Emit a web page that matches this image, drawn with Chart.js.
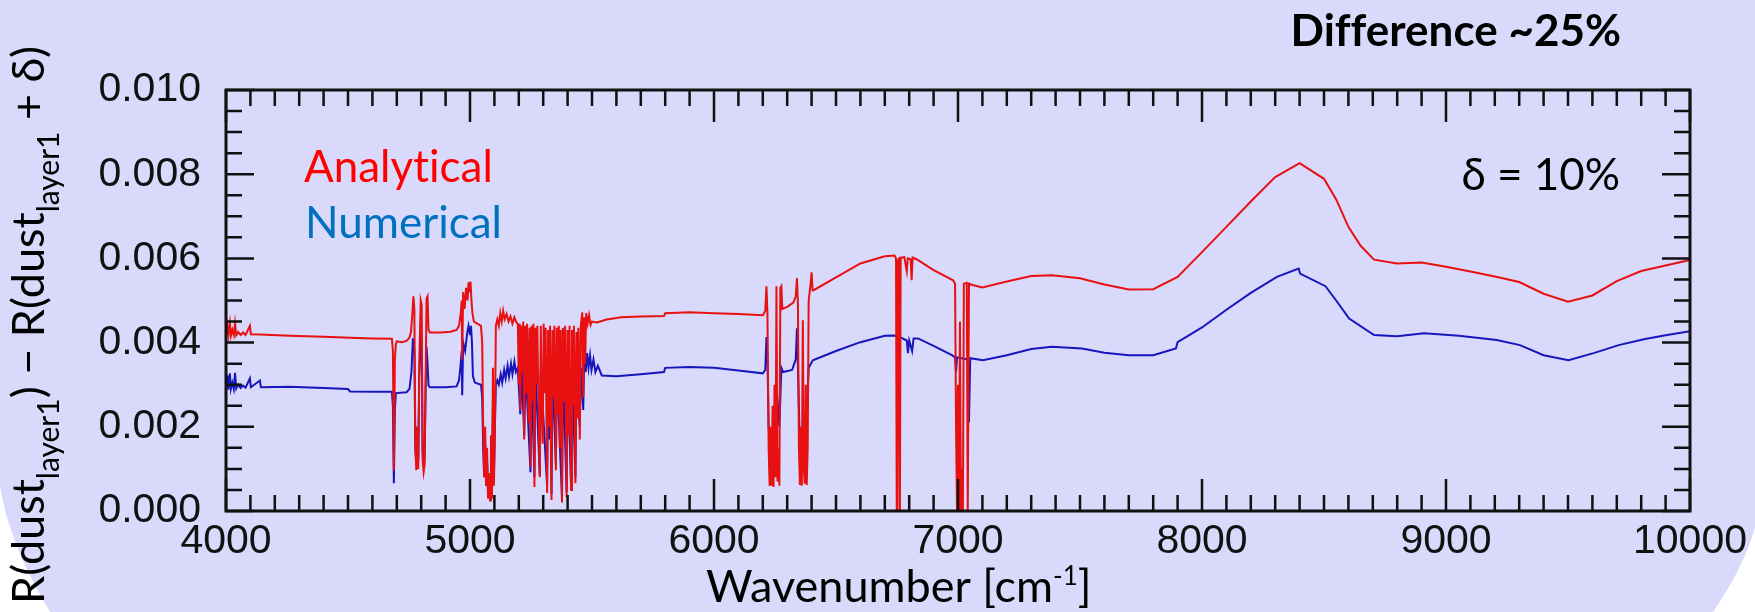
<!DOCTYPE html>
<html>
<head>
<meta charset="utf-8">
<script src="https://cdn.jsdelivr.net/npm/chart.js@4.4.1/dist/chart.umd.min.js"></script>
<style>
  html, body { margin: 0; padding: 0; background: #fff; }
  canvas { display: block; }
</style>
</head>
<body>
<canvas id="spectrum" width="1755" height="612"></canvas>
<script>
/* ===================== DATA ===================== */

// tick values (wavenumber in cm-1, reflectance difference)
const xTicks = [4000, 5000, 6000, 7000, 8000, 9000, 10000];
const yTicks = [0.000, 0.002, 0.004, 0.006, 0.008, 0.010];

// [wavenumber, value]
const analytical = [
  [4000,0.00415],[4006,0.00440],[4010,0.00418],[4016,0.00445],[4020,0.00416],[4026,0.00430],
  [4032,0.00418],[4037,0.00446],[4042,0.00417],[4050,0.00425],[4060,0.00418],[4070,0.00424],
  [4080,0.00418],[4098,0.00440],[4102,0.00420],[4140,0.00419],[4262,0.00416],[4400,0.00414],
  [4537,0.00411],[4600,0.00410],[4680,0.00409],
  [4684,0.00380],[4688,0.00097],[4692,0.00360],[4696,0.00395],[4700,0.00403],[4720,0.00401],
  [4740,0.00404],[4752,0.00412],[4758,0.00425],
  [4764,0.00470],[4768,0.00510],[4772,0.00480],[4776,0.00150],[4780,0.00097],[4784,0.00200],
  [4788,0.00100],[4792,0.00350],[4798,0.00500],[4802,0.00490],[4806,0.00120],[4810,0.00093],
  [4814,0.00110],[4818,0.00300],[4822,0.00505],[4826,0.00510],[4830,0.00430],
  [4836,0.00424],[4880,0.00424],[4920,0.00426],[4945,0.00430],[4955,0.00440],[4962,0.00470],
  [4966,0.00500],[4968,0.00360],[4972,0.00520],[4978,0.00480],[4984,0.00530],[4990,0.00500],
  [4994,0.00543],[4998,0.00520],[5002,0.00545],[5006,0.00500],[5010,0.00470],[5016,0.00450],
  [5030,0.00445],[5045,0.00440],
  [5050,0.00400],[5054,0.00200],[5058,0.00080],[5062,0.00200],[5066,0.00060],[5070,0.00150],
  [5074,0.00030],[5078,0.00090],[5082,0.00025],[5086,0.00180],[5090,0.00030],[5094,0.00340],
  [5098,0.00060],[5102,0.00200],[5106,0.00440],
  [5112,0.00455],[5118,0.00440],[5124,0.00470],[5130,0.00450],[5136,0.00475],[5142,0.00455],
  [5150,0.00468],[5158,0.00450],[5166,0.00462],[5174,0.00445],[5182,0.00460],[5190,0.00448],
  [5196,0.00445],[5200,0.00300],[5204,0.00445],[5206,0.00240],[5210,0.00440],[5214,0.00330],
  [5218,0.00450],[5222,0.00170],[5226,0.00440],[5230,0.00280],[5234,0.00445],[5240,0.00210],
  [5244,0.00435],[5248,0.00104],[5252,0.00440],[5256,0.00260],[5260,0.00445],[5264,0.00057],
  [5268,0.00435],[5272,0.00300],[5276,0.00440],[5282,0.00200],[5286,0.00080],[5290,0.00440],
  [5294,0.00250],[5298,0.00160],[5302,0.00445],[5306,0.00280],[5310,0.00435],[5316,0.00043],
  [5320,0.00430],[5324,0.00200],[5328,0.00440],[5334,0.00026],[5338,0.00430],[5342,0.00270],
  [5346,0.00440],[5352,0.00097],[5356,0.00435],[5360,0.00230],[5364,0.00440],[5368,0.00150],
  [5372,0.00430],[5377,0.00020],[5381,0.00435],[5386,0.00260],[5390,0.00440],[5396,0.00033],
  [5400,0.00430],[5404,0.00180],[5408,0.00440],[5414,0.00050],[5418,0.00430],[5422,0.00250],
  [5426,0.00440],[5432,0.00066],[5436,0.00425],[5440,0.00220],[5444,0.00435],[5450,0.00170],
  [5454,0.00440],[5460,0.00472],[5464,0.00270],[5468,0.00460],[5472,0.00350],[5476,0.00470],
  [5482,0.00445],[5488,0.00465],[5494,0.00442],[5500,0.00450],[5520,0.00448],[5560,0.00455],
  [5620,0.00460],[5700,0.00462],[5795,0.00463],[5800,0.00470],[5900,0.00472],[6000,0.00470],
  [6100,0.00468],[6200,0.00465],
  [6210,0.00475],[6215,0.00534],[6219,0.00470],[6224,0.00150],[6228,0.00060],[6232,0.00200],
  [6236,0.00060],[6240,0.00250],[6244,0.00057],[6248,0.00300],[6252,0.00080],[6256,0.00534],
  [6260,0.00070],[6264,0.00150],[6268,0.00060],[6272,0.00530],[6276,0.00534],[6280,0.00480],
  [6300,0.00485],[6325,0.00495],[6335,0.00510],[6340,0.00553],[6344,0.00490],[6348,0.00150],
  [6352,0.00062],[6356,0.00200],[6360,0.00060],[6364,0.00453],[6368,0.00100],[6372,0.00065],
  [6376,0.00300],[6380,0.00062],[6384,0.00150],[6388,0.00500],[6396,0.00540],[6400,0.00567],
  [6404,0.00524],[6410,0.00525],[6500,0.00555],[6600,0.00588],[6700,0.00605],[6740,0.00607],
  [6746,0.00600],[6749,0.00000],[6752,0.00000],[6756,0.00590],[6760,0.00603],[6762,0.00000],
  [6765,0.00602],[6780,0.00603],[6790,0.00570],[6794,0.00600],[6806,0.00598],[6810,0.00548],
  [6814,0.00602],[6830,0.00598],[6900,0.00572],[6980,0.00548],[6988,0.00540],[6992,0.00200],
  [6996,0.00000],[7000,0.00300],[7004,0.00000],[7008,0.00450],[7012,0.00000],[7016,0.00100],
  [7020,0.00000],[7024,0.00540],[7036,0.00542],[7040,0.00000],[7045,0.00540],[7060,0.00537],
  [7100,0.00531],[7200,0.00545],[7300,0.00558],[7385,0.00560],[7500,0.00553],[7600,0.00538],
  [7700,0.00526],[7800,0.00527],[7900,0.00556],[8000,0.00615],[8100,0.00675],[8200,0.00735],
  [8300,0.00793],[8400,0.00826],[8500,0.00789],[8550,0.00740],[8600,0.00675],[8650,0.00630],
  [8705,0.00597],[8800,0.00588],[8900,0.00590],[9000,0.00580],[9100,0.00569],[9200,0.00557],
  [9300,0.00544],[9400,0.00516],[9500,0.00497],[9600,0.00512],[9700,0.00546],[9800,0.00570],
  [9900,0.00583],[10000,0.00596]
];

const numerical = [
  [4000,0.00290],[4006,0.00322],[4010,0.00288],[4016,0.00327],[4020,0.00290],[4026,0.00305],
  [4032,0.00290],[4037,0.00328],[4042,0.00291],[4050,0.00300],[4060,0.00292],[4070,0.00298],
  [4080,0.00293],[4098,0.00315],[4102,0.00294],[4139,0.00310],[4143,0.00294],[4262,0.00295],
  [4400,0.00292],[4500,0.00290],[4508,0.00284],[4600,0.00283],[4680,0.00283],
  [4684,0.00250],[4688,0.00066],[4692,0.00240],[4696,0.00280],[4740,0.00282],[4752,0.00290],
  [4760,0.00330],[4766,0.00410],[4772,0.00380],[4776,0.00150],[4780,0.00110],[4784,0.00200],
  [4788,0.00120],[4792,0.00320],[4798,0.00410],[4802,0.00400],[4806,0.00140],[4810,0.00110],
  [4814,0.00130],[4818,0.00290],[4822,0.00390],[4826,0.00350],[4830,0.00298],
  [4836,0.00294],[4900,0.00294],[4945,0.00296],[4955,0.00310],[4962,0.00350],[4966,0.00380],
  [4968,0.00275],[4972,0.00400],[4980,0.00380],[4988,0.00420],[4994,0.00440],[5000,0.00420],
  [5004,0.00440],[5008,0.00400],[5012,0.00320],[5020,0.00305],[5045,0.00300],
  [5050,0.00270],[5054,0.00150],[5058,0.00080],[5062,0.00160],[5066,0.00060],[5070,0.00120],
  [5074,0.00040],[5078,0.00080],[5082,0.00033],[5086,0.00150],[5090,0.00050],[5094,0.00250],
  [5098,0.00080],[5102,0.00200],[5106,0.00300],
  [5112,0.00310],[5118,0.00300],[5126,0.00325],[5132,0.00305],[5140,0.00335],[5146,0.00315],
  [5154,0.00345],[5160,0.00320],[5168,0.00350],[5174,0.00325],[5182,0.00355],[5188,0.00330],
  [5196,0.00340],[5206,0.00230],[5212,0.00335],[5222,0.00180],[5228,0.00340],[5248,0.00092],
  [5252,0.00330],[5264,0.00080],[5268,0.00340],[5286,0.00085],[5290,0.00335],[5316,0.00060],
  [5320,0.00330],[5324,0.00170],[5328,0.00340],[5334,0.00040],[5338,0.00330],[5352,0.00110],
  [5356,0.00340],[5377,0.00030],[5381,0.00335],[5396,0.00045],[5400,0.00330],[5414,0.00065],
  [5418,0.00335],[5432,0.00080],[5436,0.00330],[5450,0.00200],[5454,0.00340],[5464,0.00240],
  [5468,0.00360],[5474,0.00330],[5480,0.00375],[5486,0.00340],[5492,0.00370],[5498,0.00335],
  [5506,0.00360],[5514,0.00330],[5524,0.00345],[5540,0.00322],[5600,0.00320],[5700,0.00325],
  [5795,0.00330],[5800,0.00340],[5900,0.00342],[6000,0.00340],[6100,0.00334],[6200,0.00327],
  [6210,0.00335],[6215,0.00413],[6219,0.00360],[6224,0.00200],[6228,0.00150],[6244,0.00120],
  [6256,0.00300],[6268,0.00200],[6276,0.00340],[6283,0.00330],[6320,0.00335],[6335,0.00360],
  [6340,0.00434],[6344,0.00340],[6352,0.00150],[6372,0.00130],[6388,0.00340],[6405,0.00358],
  [6500,0.00380],[6600,0.00401],[6700,0.00416],[6740,0.00417],[6762,0.00413],[6790,0.00405],
  [6795,0.00375],[6800,0.00405],[6812,0.00380],[6818,0.00410],[6836,0.00410],[6900,0.00392],
  [6975,0.00370],[6988,0.00365],[6992,0.00330],[6996,0.00365],[7040,0.00360],[7045,0.00210],
  [7050,0.00363],[7102,0.00358],[7200,0.00370],[7300,0.00385],[7385,0.00390],[7508,0.00386],
  [7600,0.00376],[7700,0.00370],[7800,0.00370],[7893,0.00386],[7900,0.00401],[8000,0.00436],
  [8100,0.00478],[8200,0.00518],[8307,0.00556],[8396,0.00576],[8402,0.00564],[8506,0.00534],
  [8550,0.00500],[8603,0.00457],[8705,0.00418],[8800,0.00415],[8910,0.00422],[9053,0.00416],
  [9208,0.00406],[9303,0.00394],[9400,0.00370],[9502,0.00358],[9605,0.00375],[9708,0.00394],
  [9811,0.00408],[9906,0.00418],[10000,0.00427]
];

/* ===================== STYLE ===================== */

const LAVENDER = "#d9d9fb";
const INK = "#111";
const TICK_FONT = { family: "'Liberation Sans', Arial, sans-serif", size: 41 };
const NOTE_FAMILY = "Lato, 'Open Sans', sans-serif";

/* ===================== PLUGINS ===================== */

// slide background: lavender panel with rounded bottom corners
const backdrop = {
  id: "backdrop",
  beforeDraw(chart) {
    const { ctx, width, height } = chart;
    ctx.save();
    ctx.fillStyle = LAVENDER;
    ctx.fillRect(0, 0, width, height);
    ctx.fillStyle = "#fff";
    ctx.beginPath();
    ctx.moveTo(0, 485);
    ctx.quadraticCurveTo(8, 542, 50, height);
    ctx.lineTo(0, height);
    ctx.closePath();
    ctx.fill();
    ctx.beginPath();
    ctx.moveTo(width, 527);
    ctx.quadraticCurveTo(1745, 565, 1713, height);
    ctx.lineTo(width, height);
    ctx.closePath();
    ctx.fill();
    ctx.restore();
  }
};

// box frame with inward ticks on all four sides
const frame = {
  id: "frame",
  afterDatasetsDraw(chart) {
    const { ctx, chartArea: a, scales: { x, y } } = chart;
    const MAJOR = 32, MINOR = 16;
    ctx.save();
    ctx.strokeStyle = INK;
    ctx.lineWidth = 2.5;
    ctx.beginPath();
    for (let k = 0; k <= 60; k++) {
      const px = x.getPixelForValue(4000 + 100 * k);
      const len = k % 10 === 0 ? MAJOR : MINOR;
      ctx.moveTo(px, a.bottom); ctx.lineTo(px, a.bottom - len);
      ctx.moveTo(px, a.top);    ctx.lineTo(px, a.top + len);
    }
    for (let k = 0; k <= 20; k++) {
      const py = y.getPixelForValue(k * 0.0005);
      const len = k % 4 === 0 ? MAJOR - 4 : MINOR;
      ctx.moveTo(a.left, py);  ctx.lineTo(a.left + len, py);
      ctx.moveTo(a.right, py); ctx.lineTo(a.right - len, py);
    }
    ctx.stroke();
    ctx.lineWidth = 3;
    ctx.strokeRect(a.left, a.top, a.right - a.left, a.bottom - a.top);
    ctx.restore();
  }
};

function drawRich(ctx, parts, x, y, align) {
  let total = 0;
  parts.forEach(p => { ctx.font = p.font; p.w = ctx.measureText(p.text).width; total += p.w; });
  let cx = align === "center" ? x - total / 2 : align === "right" ? x - total : x;
  ctx.textAlign = "left";
  ctx.textBaseline = "alphabetic";
  parts.forEach(p => {
    ctx.font = p.font;
    ctx.fillText(p.text, cx, y + (p.dy || 0));
    cx += p.w;
  });
}

// labels, legend words and axis titles
const notes = {
  id: "notes",
  afterDraw(chart) {
    const { ctx } = chart;
    const note = `44px ${NOTE_FAMILY}`;
    const title = `45px ${NOTE_FAMILY}`;
    const small = `30px ${NOTE_FAMILY}`;
    ctx.save();
    ctx.fillStyle = "#000";
    // zero-width non-joiners keep "ff" / "ti" from turning into ligatures
    drawRich(ctx, [{ text: "Dif\u200Cference ~25%", font: `bold 44px ${NOTE_FAMILY}` }], 1621, 46, "right");
    drawRich(ctx, [{ text: "\u03b4 = 10%", font: note }], 1620, 190, "right");

    ctx.fillStyle = "#ff0000";
    drawRich(ctx, [{ text: "Analyt\u200Cical", font: note }], 304, 182, "left");
    ctx.fillStyle = "#0070c0";
    drawRich(ctx, [{ text: "Numerical", font: note }], 305, 238, "left");

    ctx.fillStyle = "#000";
    drawRich(ctx, [
      { text: "Wavenumber [cm", font: title },
      { text: "-1", font: `26px ${NOTE_FAMILY}`, dy: -17 },
      { text: "]", font: title }
    ], 706, 602, "left");

    ctx.translate(44, 325);
    ctx.rotate(-Math.PI / 2);
    drawRich(ctx, [
      { text: "R(dust", font: title },
      { text: "layer1", font: small, dy: 15 },
      { text: ") \u2212 R(dust", font: title },
      { text: "layer1", font: small, dy: 15 },
      { text: " + \u03b4)", font: title }
    ], 0, 0, "center");
    ctx.restore();
  }
};

/* ===================== CHART ===================== */

const toPoints = rows => rows.map(r => ({ x: r[0], y: r[1] }));

new Chart(document.getElementById("spectrum"), {
  type: "line",
  data: {
    datasets: [
      {
        label: "Analytical",
        data: toPoints(analytical),
        borderColor: "#e81010",
        order: 0
      },
      {
        label: "Numerical",
        data: toPoints(numerical),
        borderColor: "#1616bc",
        order: 1
      }
    ]
  },
  options: {
    responsive: false,
    animation: false,
    events: [],
    layout: { padding: { left: 0, right: 65, top: 90, bottom: 0 } },
    elements: {
      point: { radius: 0 },
      line: { borderWidth: 2, tension: 0, fill: false }
    },
    plugins: {
      legend: { display: false },
      tooltip: { enabled: false }
    },
    scales: {
      x: {
        type: "linear",
        min: 4000,
        max: 10000,
        grid: { display: false, drawTicks: false },
        border: { display: false },
        ticks: {
          font: TICK_FONT,
          color: INK,
          padding: 6,
          autoSkip: false,
          maxRotation: 0,
          callback: v => String(v)
        },
        afterBuildTicks: s => { s.ticks = xTicks.map(v => ({ value: v })); },
        afterFit: s => { s.height = 101; }
      },
      y: {
        type: "linear",
        min: 0,
        max: 0.01,
        grid: { display: false, drawTicks: false },
        border: { display: false },
        ticks: {
          font: TICK_FONT,
          color: INK,
          padding: 25,
          callback: v => v.toFixed(3)
        },
        afterBuildTicks: s => { s.ticks = yTicks.map(v => ({ value: v })); },
        afterFit: s => { s.width = 226; }
      }
    }
  },
  plugins: [backdrop, frame, notes]
});
</script>
</body>
</html>
